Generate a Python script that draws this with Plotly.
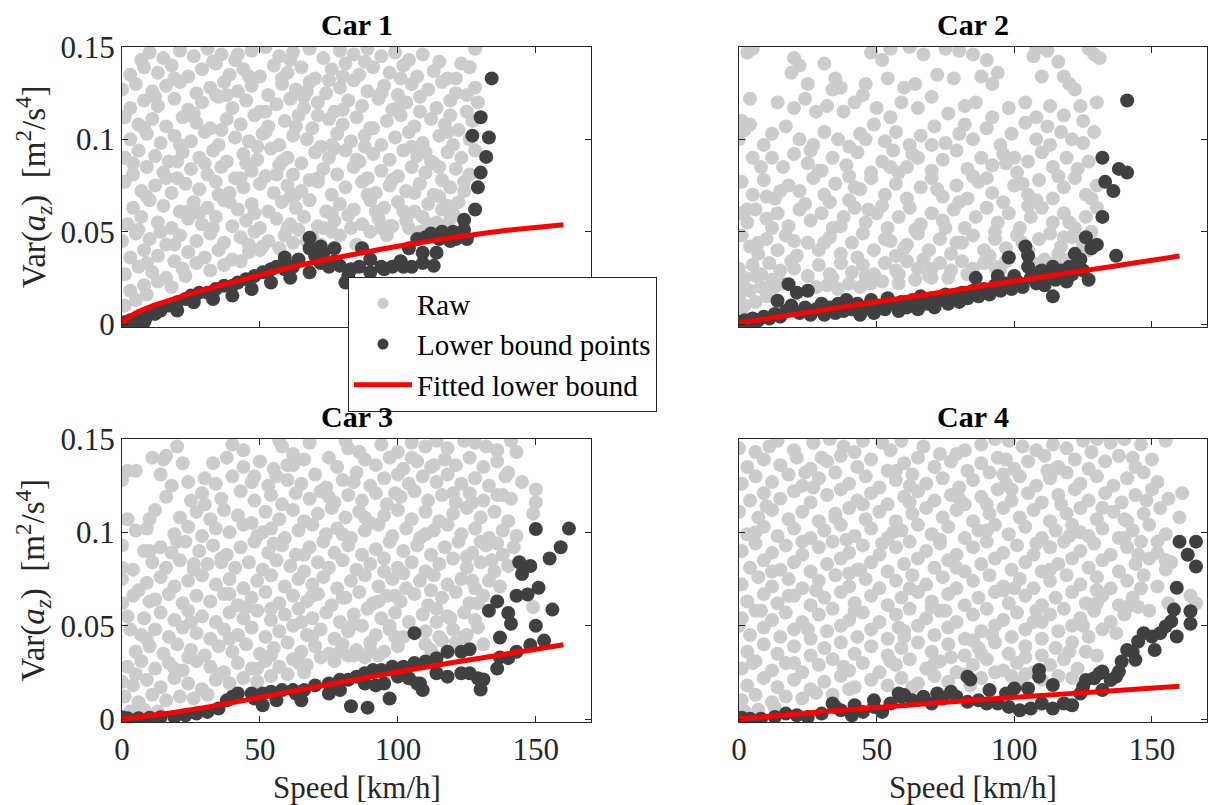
import plotly.graph_objects as go

# ---------------- data ----------------
titles = ["Car 1", "Car 2", "Car 3", "Car 4"]
x_ticks = [0, 50, 100, 150]
x_tick_text = ["0", "50", "100", "150"]
y_ticks = [0, 0.05, 0.1, 0.15]
y_tick_text = ["0", "0.05", "0.1", "0.15"]
legend_names = ["Raw", "Lower bound points", "Fitted lower bound"]

car1_raw = [
 (10,.147),(15,.144),(21,.148),(26,.145),(31,.149),(36,.146),(41,.143),(47,.148),(52,.15),(57,.145),(62,.147),(68,.149),(73,.144),(79,.148),(84,.146),(89,.149),(94,.145),(99,.147),(104,.143),(109,.146),(128,.149),
 (3,.135),(8,.139),(13,.136),(18,.14),(24,.134),(29,.138),(34,.141),(39,.135),(44,.138),(50,.134),(55,.14),(60,.136),(65,.139),(70,.133),(76,.138),(81,.141),(86,.135),(91,.139),(97,.136),(102,.14),(107,.134),(113,.137),(118,.133),(126,.139),
 (0,.127),(5,.13),(11,.126),(16,.129),(21,.131),(27,.125),(32,.128),(37,.131),(42,.126),(47,.129),(53,.124),(58,.13),(63,.127),(68,.131),(74,.125),(79,.128),(84,.132),(89,.126),(95,.129),(100,.124),(105,.13),(111,.127),(116,.131),(121,.125),(128,.128),
 (3,.117),(8,.121),(13,.118),(19,.122),(24,.116),(29,.12),(35,.123),(40,.117),(45,.121),(50,.115),(56,.119),(61,.122),(66,.117),(71,.12),(77,.115),(82,.121),(87,.118),(93,.122),(98,.116),(103,.12),(108,.123),(114,.117),(119,.121),(125,.124),(129,.12),
 (1,.112),(6,.108),(11,.111),(16,.107),(22,.112),(27,.109),(32,.106),(38,.111),(43,.108),(48,.113),(53,.107),(59,.11),(64,.113),(69,.106),(75,.111),(80,.108),(85,.112),(90,.106),(96,.11),(101,.113),(106,.107),(112,.111),(117,.108),(122,.105),(127,.11),
 (3,.1),(9,.103),(14,.098),(19,.102),(25,.099),(30,.104),(35,.097),(41,.101),(46,.099),(51,.103),(57,.097),(62,.102),(67,.1),(72,.096),(78,.103),(83,.099),(88,.102),(94,.097),(99,.101),(104,.104),(109,.098),(115,.102),(120,.097),(126,.1),
 (1,.09),(6,.094),(12,.091),(17,.088),(22,.093),(28,.09),(33,.094),(38,.088),(44,.092),(49,.089),(54,.095),(60,.09),(65,.087),(70,.093),(75,.09),(81,.094),(86,.088),(91,.092),(97,.089),(102,.094),(107,.091),(113,.087),(118,.093),(123,.09),(128,.094),
 (4,.081),(9,.085),(15,.082),(20,.079),(25,.084),(31,.081),(36,.085),(41,.079),(47,.083),(52,.08),(57,.086),(62,.081),(68,.078),(73,.084),(78,.081),(84,.085),(89,.079),(94,.083),(100,.08),(105,.085),(110,.082),(116,.078),(121,.084),(126,.081),
 (1,.077),(7,.072),(12,.075),(18,.071),(23,.076),(28,.073),(34,.077),(39,.071),(44,.074),(50,.076),(55,.071),(60,.075),(65,.072),(71,.077),(76,.07),(81,.074),(87,.077),(92,.071),(97,.075),(103,.072),(108,.076),(113,.07),(119,.074),(124,.072),
 (4,.063),(10,.067),(15,.064),(21,.061),(26,.066),(31,.063),(37,.067),(42,.062),(47,.065),(53,.061),(58,.066),(63,.063),(68,.067),(74,.061),(79,.065),(84,.062),(90,.067),(95,.063),(100,.066),(106,.061),(111,.065),(116,.062),(122,.066),
 (2,.054),(7,.058),(13,.055),(18,.052),(24,.057),(29,.054),(34,.058),(40,.053),(45,.056),(50,.052),(56,.057),(61,.054),(66,.058),(71,.053),(77,.056),(82,.059),(87,.054),(93,.057),(98,.053),(103,.056),(109,.058),(114,.055),(119,.057),(124,.055),
 (0,.045),(5,.049),(10,.046),(16,.043),(21,.048),(27,.045),(32,.049),(37,.044),(43,.047),(48,.05),(53,.045),(59,.048),(64,.051),(69,.047),(76,.05),(83,.052),(90,.05),(97,.053),(104,.052),(111,.054),(117,.053),
 (3,.036),(8,.04),(13,.037),(19,.034),(24,.039),(30,.036),(35,.04),(40,.035),(46,.039),(51,.042),(57,.041),(62,.044),(67,.045),(72,.043),
 (1,.027),(6,.031),(11,.028),(16,.025),(22,.03),(27,.033),(32,.029),(37,.032),(43,.034),
 (3,.018),(8,.021),(13,.023),(18,.02),(23,.026),(1,.01),(5,.013),(9,.016),
 (34,.124),(58,.133),(71,.113),(88,.096),(45,.087),(63,.07),(92,.061),(28,.06),(115,.085),(100,.117),(80,.134),(52,.104),(20,.088),(118,.064),(106,.071),(39,.066),(73,.052),(85,.043),(96,.048),(56,.081),(67,.126),(110,.093),(125,.115),(14,.05),(9,.033),(50,.04),(123,.141),(24,.113),(77,.095),(42,.146),
 (7,.143),(19,.133),(33,.142),(46,.134),(61,.143),(75,.132),(88,.142),(101,.133),(115,.142),(121,.133),
 (12,.123),(26,.114),(38,.124),(52,.115),(66,.123),(80,.116),(94,.125),(108,.115),(119,.113),
 (8,.106),(21,.097),(36,.105),(49,.096),(63,.107),(76,.097),(91,.106),(105,.096),(118,.104),
 (4,.087),(16,.079),(30,.087),(43,.079),(58,.088),(71,.079),(85,.089),(98,.078),(112,.088),(124,.077),
 (9,.069),(24,.061),(35,.07),(48,.06),(61,.069),(76,.06),(89,.07),(102,.061),(115,.069),
 (6,.051),(19,.043),(33,.052),(46,.043),(60,.052),(79,.048),(94,.052),(108,.05),(120,.06),
]
car1_low = [
 (0,.0003),(1,.001),(3,.002),(4,.0005),(6,.002),(8,.001),(9,.004),(12,.0055),(14,.0073),(17,.01),(20,.0073),(20,.0118),(23,.0136),(25,.0154),(26,.0118),(28,.017),(31,.017),(33,.0136),(34,.019),(37,.0208),(40,.0208),(40,.0154),(42,.0225),(45,.0243),(47,.019),(48,.026),(51,.028),(54,.0297),(54,.0225),(56,.031),(59,.0297),(59,.036),(61,.025),(62,.031),(64,.035),(68,.0467),(68,.041),(68,.028),(70,.037),(72,.033),(72,.042),(73,.0386),(75,.031),(77,.034),(77,.041),(79,.0315),(81,.0225),(82,.026),(83,.0297),(86,.031),(87,.041),(90,.035),(90,.028),(94,.031),(95,.0297),(98,.031),(101,.034),(102,.031),(104,.041),(105,.031),(107,.046),(109,.033),(109,.0386),(110,.047),(112,.049),(113,.0315),(114,.0386),(115,.046),(116,.05),(118,.047),(119,.045),(120,.05),(121,.046),(122,.049),(124,.051),(124,.0565),(125,.046),(128,.062),(129,.074),(130,.082),(132,.0905),(127,.102),(133,.101),(130,.112),(134,.133),
]
car1_fit_v = [0, 2, 5, 10, 15, 20, 30, 40, 50, 60, 70, 80, 90, 100, 110, 120, 130, 140, 150, 160]
car1_fit_y = [0, .003, .006, .0092, .0118, .0142, .0186, .0226, .0265, .0302, .0336, .0366, .0394, .0421, .0445, .0468, .0489, .0508, .0523, .0537]

car2_raw = [
 (3,.147),(5,.149),(20,.144),(22,.14),(31,.141),(48,.147),(52,.143),(55,.149),(62,.15),(67,.146),(75,.149),(80,.148),(85,.146),(90,.143),(107,.145),(108,.149),(112,.148),(116,.142),(127,.149),(129,.146),(131,.144),
 (19,.136),(25,.13),(34,.127),(35,.133),(37,.128),(46,.13),(54,.133),(60,.128),(64,.13),(72,.135),(78,.133),(88,.134),(92,.13),(94,.136),(110,.134),(118,.134),(120,.13),(122,.127),
 (4,.122),(14,.12),(20,.117),(24,.122),(28,.115),(32,.118),(38,.115),(42,.12),(45,.124),(50,.117),(55,.112),(59,.12),(65,.117),(70,.123),(76,.114),(82,.118),(86,.12),(92,.112),(98,.117),(104,.12),(108,.112),(113,.118),(118,.113),(124,.118),(130,.12),(1,.11),
 (2,.105),(0,.1),(4,.108),(9,.097),(12,.103),(17,.107),(22,.1),(27,.097),(31,.104),(36,.1),(40,.096),(44,.103),(49,.108),(53,.099),(57,.104),(62,.097),(66,.102),(71,.107),(75,.098),(80,.103),(85,.1),(90,.106),(95,.097),(99,.103),(104,.109),(108,.1),(113,.097),(117,.104),(121,.1),(125,.098),(129,.104),
 (12,.09),(16,.085),(20,.092),(25,.087),(30,.083),(34,.09),(39,.086),(43,.093),(48,.082),(52,.088),(56,.094),(61,.085),(65,.09),(70,.083),(74,.089),(79,.094),(83,.084),(88,.09),(92,.086),(96,.092),(101,.082),(105,.088),(110,.093),(114,.085),(119,.09),(123,.084),(127,.088),
 (1,.077),(5,.07),(9,.078),(13,.068),(18,.075),(22,.072),(27,.079),(31,.07),(35,.076),(40,.067),(44,.073),(48,.079),(53,.07),(57,.076),(61,.068),(66,.074),(70,.079),(74,.069),(79,.075),(83,.068),(87,.077),(92,.071),(96,.066),(100,.075),(105,.07),(109,.078),(114,.068),(118,.074),(122,.079),(126,.07),(130,.075),
 (0,.06),(3,.055),(6,.062),(10,.057),(14,.06),(18,.053),(22,.062),(26,.056),(30,.06),(34,.052),(38,.058),(42,.063),(46,.055),(50,.06),(54,.052),(58,.058),(62,.063),(66,.054),(70,.06),(74,.056),(78,.062),(82,.052),(86,.058),(90,.063),(94,.055),(98,.06),(102,.052),(106,.058),(110,.063),(114,.055),(118,.06),(122,.052),(126,.058),(130,.063),
 (1,.048),(4,.042),(7,.038),(10,.046),(14,.04),(17,.048),(21,.037),(25,.044),(29,.04),(33,.047),(37,.038),(41,.044),(45,.049),(49,.04),(53,.046),(57,.037),(61,.043),(65,.049),(69,.04),(73,.046),(77,.038),(81,.044),(85,.048),(89,.04),(93,.046),(97,.041),(101,.048),(105,.04),(109,.046),(113,.049),(117,.042),(121,.047),(125,.043),(128,.05),
 (0,.03),(2,.025),(5,.032),(8,.027),(11,.033),(15,.029),(25,.026),(29,.032),(33,.027),(37,.033),(41,.028),(45,.032),(49,.027),(53,.033),(57,.029),(61,.034),(65,.03),(69,.026),(73,.033),(77,.029),(81,.034),(85,.03),(89,.033),(93,.031),(97,.034),(111,.035),(115,.033),(120,.035),(123,.033),
 (0,.015),(2,.01),(4,.018),(6,.012),(8,.02),(10,.015),(13,.02),(1,.005),(16,.022),(28,.02),(32,.021),(36,.019),(40,.022),(44,.02),(48,.022),(52,.023),(58,.022),(64,.024),(70,.025),(76,.025),
 (60,.041),(75,.052),(90,.036),(33,.066),(47,.062),(105,.064),(118,.047),(128,.068),(10,.069),(20,.045),(55,.085),(85,.08),(100,.09),(70,.097),(125,.11),(5,.09),(40,.08),
 (3,.062),(12,.052),(24,.065),(37,.053),(52,.064),(64,.051),(80,.066),(93,.05),(108,.067),(120,.055),
 (7,.044),(19,.034),(31,.044),(43,.036),(55,.045),(67,.035),(79,.044),(91,.037),(103,.044),(116,.038),(127,.04),
 (2,.02),(6,.026),(12,.024),(20,.03),(34,.025),(46,.026),(58,.027),(70,.03),(83,.027),(95,.03),(107,.033),(118,.03),
 (15,.072),(29,.083),(42,.074),(58,.082),(72,.073),(90,.079),(103,.076),(116,.08),
 (8,.085),(26,.094),(46,.1),(63,.092),(82,.108),(97,.087),(112,.107),
]
car2_low = [
 (0,.001),(1,.0005),(2,.002),(4,.001),(5,.003),(7,.002),(9,.004),(11,.003),(13,.0055),(14,.0126),(15,.004),(17,.007),(18,.0216),(19,.01),(21,.017),(22,.006),(24,.009),(25,.018),(26,.005),(28,.008),(30,.011),(31,.005),(33,.009),(35,.006),(36,.011),(38,.007),(39,.013),(41,.008),(43,.011),(44,.005),(46,.009),(48,.013),(49,.006),(51,.01),(53,.008),(54,.014),(56,.011),(58,.007),(59,.012),(61,.009),(63,.013),(65,.008),(66,.015),(68,.011),(70,.014),(71,.009),(73,.013),(75,.016),(76,.011),(78,.014),(80,.012),(81,.017),(83,.014),(85,.018),(86,.025),(87,.015),(89,.019),(91,.016),(93,.021),(94,.026),(95,.018),(97,.022),(98,.036),(99,.019),(100,.026),(101,.023),(103,.02),(104,.042),(105,.037),(105,.031),(106,.025),(108,.022),(109,.028),(110,.029),(111,.021),(112,.026),(114,.031),(114,.015),(115,.024),(117,.029),(118,.026),(119,.023),(120,.031),(121,.027),(122,.038),(123,.032),(124,.035),(125,.029),(126,.047),(127,.024),(128,.041),(130,.043),(132,.058),(132,.09),(133,.077),(136,.072),(137,.037),(138,.084),(141,.082),(141,.121),
]
car2_fit_v = [0, 20, 40, 60, 80, 100, 120, 140, 160]
car2_fit_y = [.0005, .0052, .0097, .0142, .0187, .0232, .0277, .0322, .0368]

car3_raw = [
 (20,.146),(40,.147),(44,.144),(57,.149),(58,.146),(68,.148),(81,.149),(82,.145),(94,.147),(100,.143),(105,.148),(110,.146),(114,.149),(118,.145),(124,.149),(128,.148),(132,.146),(136,.144),(141,.149),(143,.143),
 (11,.14),(15,.139),(16,.141),(22,.137),(33,.137),(38,.14),(44,.135),(50,.138),(55,.134),(62,.136),(66,.139),(75,.14),(78,.135),(88,.139),(92,.136),(97,.14),(102,.134),(107,.138),(112,.135),(117,.139),(121,.136),(126,.14),(131,.135),(136,.138),
 (0,.128),(2,.133),(5,.133),(14,.131),(24,.127),(30,.129),(34,.126),(40,.13),(47,.127),(53,.125),(56,.13),(60,.128),(65,.126),(70,.131),(74,.124),(80,.128),(85,.132),(90,.125),(95,.129),(100,.131),(104,.126),(109,.13),(114,.127),(118,.131),(123,.126),(128,.129),(133,.125),(139,.13),(145,.127),
 (18,.125),(16,.119),(25,.117),(29,.121),(36,.118),(43,.122),(48,.117),(54,.12),(58,.115),(63,.121),(68,.118),(72,.122),(77,.116),(82,.12),(87,.117),(92,.121),(96,.115),(101,.119),(106,.122),(111,.117),(116,.12),(121,.116),(126,.121),(131,.117),(136,.12),(141,.118),(150,.123),
 (12,.112),(10,.107),(21,.108),(27,.111),(32,.107),(37,.112),(42,.109),(47,.105),(52,.111),(57,.107),(62,.112),(66,.106),(71,.11),(76,.113),(81,.108),(86,.111),(90,.105),(95,.109),(100,.112),(105,.107),(110,.111),(115,.106),(120,.11),(125,.113),(130,.108),(135,.111),(140,.106),(149,.11),(150,.116),
 (5,.101),(9,.102),(19,.099),(24,.103),(29,.098),(34,.102),(39,.1),(44,.104),(49,.098),(54,.102),(59,.097),(64,.101),(69,.104),(74,.099),(78,.102),(83,.097),(88,.101),(93,.104),(98,.098),(103,.102),(108,.097),(113,.101),(118,.104),(123,.099),(128,.102),(133,.097),(138,.101),(143,.098),
 (0,.093),(8,.09),(14,.092),(18,.089),(23,.095),(28,.09),(33,.093),(38,.088),(43,.092),(48,.095),(53,.089),(58,.093),(63,.088),(68,.092),(73,.095),(77,.089),(82,.093),(87,.088),(92,.091),(97,.095),(102,.09),(107,.093),(112,.088),(117,.092),(122,.095),(127,.089),(132,.093),(138,.088),(142,.092),
 (0,.081),(11,.084),(16,.081),(21,.085),(26,.08),(31,.083),(36,.086),(41,.081),(46,.084),(51,.08),(56,.085),(61,.082),(66,.079),(71,.084),(75,.081),(80,.085),(85,.08),(90,.083),(95,.086),(100,.081),(105,.084),(110,.079),(115,.083),(120,.086),(125,.081),(130,.084),(135,.079),(140,.082),
 (0,.075),(6,.069),(9,.073),(14,.076),(19,.071),(24,.074),(29,.077),(34,.072),(39,.075),(44,.07),(49,.074),(54,.077),(59,.071),(64,.075),(69,.072),(73,.076),(78,.07),(83,.074),(88,.077),(93,.071),(98,.075),(103,.07),(108,.074),(113,.077),(118,.072),(123,.075),(128,.07),(133,.074),(137,.071),
 (0,.062),(4,.066),(12,.064),(17,.067),(22,.062),(27,.066),(32,.063),(37,.067),(42,.061),(47,.065),(52,.068),(57,.062),(62,.066),(67,.063),(71,.067),(76,.061),(81,.065),(86,.068),(91,.062),(96,.066),(101,.063),(106,.067),(111,.061),(116,.065),(121,.068),(126,.062),(131,.066),(149,.06),
 (2,.055),(8,.054),(14,.057),(19,.053),(24,.058),(29,.055),(34,.052),(39,.057),(44,.054),(49,.058),(54,.053),(59,.056),(64,.059),(69,.054),(74,.057),(79,.052),(84,.056),(89,.059),(94,.054),(99,.057),(104,.052),(109,.056),(114,.059),(119,.054),(124,.057),(128,.053),
 (3,.048),(7,.045),(12,.048),(17,.044),(22,.049),(27,.046),(32,.043),(37,.048),(42,.045),(47,.049),(52,.044),(57,.047),(62,.05),(67,.045),(72,.048),(77,.043),(82,.047),(87,.05),(92,.045),(97,.048),(102,.044),(110,.047),(115,.044),(120,.048),(125,.045),(129,.049),
 (5,.036),(10,.039),(15,.035),(20,.04),(25,.037),(30,.034),(35,.039),(40,.036),(45,.04),(50,.035),(55,.038),(60,.041),(65,.036),(70,.039),(75,.035),(80,.04),(85,.037),(90,.041),(95,.036),(100,.039),(110,.04),(116,.042),(124,.044),(131,.04),
 (2,.028),(7,.031),(12,.027),(17,.03),(22,.026),(27,.031),(32,.028),(37,.025),(42,.03),(47,.027),(52,.031),(57,.028),(62,.032),(67,.029),(72,.033),(77,.031),(82,.034),(88,.033),(93,.034),
 (0,.02),(4,.018),(9,.021),(14,.017),(19,.022),(24,.019),(29,.016),(34,.021),(39,.019),(44,.022),(49,.02),(54,.023),(60,.024),(66,.025),
 (1,.012),(6,.009),(11,.013),(16,.01),(21,.012),(26,.011),(31,.013),(3,.004),(8,.005),(13,.004),
 (55,.094),(88,.108),(102,.078),(120,.121),(127,.074),(65,.052),(45,.06),(80,.065),(97,.05),(112,.069),(130,.095),(138,.12),(75,.119),(26,.083),(60,.136),(105,.14),(93,.063),(118,.055),(84,.127),(134,.085),
 (30,.115),(48,.13),(62,.142),(86,.143),(99,.121),(113,.136),(127,.116),(140,.132),
 (20,.095),(36,.084),(51,.1),(66,.088),(80,.099),(95,.079),(110,.099),(125,.087),(136,.094),
 (10,.063),(25,.052),(39,.067),(54,.059),(69,.066),(84,.051),(99,.066),(114,.052),(129,.062),
 (9,.043),(24,.033),(39,.043),(54,.034),(69,.044),(84,.034),(99,.044),(112,.037),(121,.041),
 (5,.024),(19,.027),(35,.024),(49,.027),(64,.03),(79,.036),(90,.037),
 (4,.08),(10,.09),(2,.107),
]
car3_low = [
 (0,.001),(2,.0004),(6,.0004),(10,.0007),(14,.001),(19,.001),(23,.002),(27,.0029),(31,.0038),(35,.0056),(38,.01),(40,.0119),(42,.0137),(47,.0137),(48,.011),(51,.0137),(51,.0074),(54,.0146),(56,.01),(58,.0155),(62,.0155),(63,.0137),(65,.01),(66,.0155),(70,.018),(75,.019),(75,.0137),(79,.021),(79,.0155),(82,.021),(83,.0068),(85,.0227),(88,.0245),(88,.019),(89,.0061),(91,.0263),(92,.018),(94,.0263),(95,.019),(97,.011),(98,.028),(100,.0227),(102,.028),(104,.0218),(106,.03),(106,.046),(107,.019),(108,.019),(109,.0155),(110,.0308),(114,.0326),(114,.0245),(118,.036),(118,.0227),(123,.036),(123,.0245),(126,.0374),(126,.0245),(129,.0218),(130,.0158),(131,.0212),(136,.027),(137,.033),(137,.0437),(140,.0326),(143,.036),(136,.063),(133,.058),(140,.0568),(141,.051),(143,.066),(144,.084),(145,.0777),(147,.0667),(148,.082),(148,.0397),(150,.05),(150,.1018),(151,.0703),(153,.042),(155,.086),(156,.0586),(159,.092),(162,.102),
]
car3_fit_v = [0, 20, 40, 60, 80, 100, 120, 140, 160]
car3_fit_y = [0, .0038, .0088, .0143, .0198, .0252, .0303, .035, .0398]

car4_raw = [
 (0,.145),(11,.146),(14,.149),(20,.144),(27,.148),(33,.15),(38,.146),(45,.149),(52,.148),(55,.144),(59,.149),(67,.146),(73,.142),(82,.144),(88,.147),(93,.15),(98,.149),(103,.146),(108,.144),(114,.147),(119,.145),(125,.149),(130,.15),(135,.148),(140,.15),(146,.147),(155,.149),
 (3,.135),(9,.139),(15,.136),(21,.14),(26,.134),(32,.138),(37,.141),(43,.135),(48,.139),(54,.133),(60,.137),(65,.14),(71,.135),(77,.138),(83,.133),(88,.137),(94,.14),(100,.134),(105,.138),(111,.141),(116,.135),(122,.139),(127,.134),(133,.138),(138,.141),(144,.135),(150,.139),
 (1,.126),(6,.13),(12,.127),(18,.131),(23,.125),(29,.129),(35,.132),(40,.126),(46,.13),(51,.124),(57,.128),(63,.131),(68,.126),(74,.129),(80,.124),(85,.128),(91,.132),(97,.126),(102,.13),(108,.125),(113,.129),(119,.132),(124,.126),(130,.13),(136,.125),(141,.129),(147,.132),(152,.127),
 (4,.117),(9,.121),(15,.118),(20,.122),(26,.116),(32,.12),(37,.123),(43,.117),(48,.121),(54,.115),(60,.119),(65,.122),(71,.117),(77,.12),(82,.115),(88,.119),(94,.123),(99,.117),(105,.121),(110,.116),(116,.12),(122,.123),(127,.117),(133,.121),(139,.116),(144,.12),(150,.123),(156,.118),(161,.121),
 (0,.111),(7,.108),(12,.112),(18,.107),(23,.111),(29,.106),(35,.11),(40,.113),(46,.107),(51,.111),(57,.106),(63,.11),(68,.113),(74,.108),(79,.112),(85,.106),(91,.11),(96,.113),(102,.108),(107,.112),(113,.106),(119,.11),(124,.113),(130,.107),(136,.111),(141,.106),(147,.11),(153,.113),(160,.108),
 (3,.099),(9,.103),(14,.098),(20,.102),(26,.097),(31,.101),(37,.104),(42,.098),(48,.102),(54,.097),(59,.101),(65,.104),(70,.099),(76,.103),(82,.097),(87,.101),(93,.104),(98,.099),(104,.103),(110,.097),(115,.101),(121,.104),(127,.098),(132,.102),(138,.097),(143,.101),(149,.104),(155,.099),
 (1,.09),(6,.094),(12,.089),(17,.093),(23,.088),(29,.092),(34,.095),(40,.089),(45,.093),(51,.088),(57,.092),(62,.095),(68,.09),(73,.094),(79,.088),(85,.092),(90,.095),(96,.089),(101,.093),(107,.088),(113,.092),(118,.095),(124,.09),(129,.094),(135,.088),(141,.092),(146,.095),(152,.089),(157,.084),
 (4,.081),(9,.085),(15,.08),(20,.084),(26,.079),(32,.083),(37,.086),(43,.08),(48,.084),(54,.079),(60,.083),(65,.086),(71,.081),(76,.085),(82,.079),(88,.083),(93,.086),(99,.08),(104,.084),(110,.079),(116,.083),(121,.086),(127,.081),(132,.085),(138,.079),(144,.083),(149,.086),(155,.08),
 (1,.072),(7,.076),(12,.071),(18,.075),(23,.07),(29,.074),(35,.077),(40,.071),(46,.075),(51,.07),(57,.074),(63,.077),(68,.072),(74,.076),(79,.07),(85,.074),(91,.077),(96,.071),(102,.075),(107,.07),(113,.074),(119,.077),(124,.072),(130,.076),(135,.07),(141,.074),(147,.077),(152,.071),(156,.062),(164,.066),(166,.062),
 (3,.063),(9,.067),(14,.062),(20,.066),(26,.061),(31,.065),(37,.068),(42,.062),(48,.066),(54,.061),(59,.065),(65,.068),(70,.063),(76,.067),(82,.061),(87,.065),(93,.068),(98,.062),(104,.066),(110,.061),(115,.065),(121,.068),(126,.062),(132,.066),(138,.061),(143,.065),(149,.058),
 (1,.054),(6,.058),(12,.053),(17,.057),(23,.052),(29,.056),(34,.059),(40,.053),(45,.057),(51,.052),(57,.056),(62,.059),(68,.054),(73,.058),(79,.052),(85,.056),(90,.059),(96,.053),(101,.057),(107,.052),(113,.056),(118,.059),(124,.054),(129,.058),(135,.052),(140,.056),(145,.06),
 (0,.05),(4,.045),(9,.049),(15,.044),(20,.048),(26,.043),(32,.047),(37,.05),(43,.044),(48,.048),(54,.043),(60,.047),(65,.05),(71,.045),(76,.049),(82,.043),(88,.047),(93,.05),(99,.044),(104,.048),(110,.043),(116,.047),(121,.05),(127,.044),(132,.048),(137,.046),
 (3,.036),(9,.04),(14,.035),(20,.039),(26,.034),(31,.038),(37,.041),(42,.035),(48,.039),(54,.034),(59,.038),(65,.041),(70,.036),(76,.04),(82,.034),(87,.038),(93,.041),(98,.035),(104,.039),(110,.034),(115,.038),(121,.041),(126,.036),(130,.034),
 (1,.027),(6,.031),(12,.026),(17,.03),(23,.025),(29,.029),(34,.032),(40,.026),(45,.03),(51,.025),(57,.029),(62,.032),(68,.027),(73,.031),(79,.025),(85,.029),(90,.032),(96,.026),(101,.03),(107,.025),(113,.029),(118,.032),(123,.027),
 (3,.018),(9,.022),(14,.017),(20,.021),(26,.016),(31,.02),(37,.023),(42,.017),(48,.021),(54,.018),(59,.022),(65,.019),(71,.023),(76,.02),(82,.024),(88,.022),(93,.025),(99,.023),(104,.024),(110,.021),(116,.023),(121,.022),
 (1,.01),(6,.013),(12,.009),(17,.012),(23,.011),(28,.014),(34,.013),(2,.004),(7,.005),(13,.006),
 (30,.14),(62,.125),(90,.115),(120,.098),(145,.088),(40,.078),(70,.06),(100,.07),(130,.062),(18,.066),(52,.094),(85,.042),(110,.052),(140,.107),(155,.085),(77,.033),(35,.108),(115,.134),(60,.044),(96,.131),
 (6,.143),(24,.132),(42,.143),(57,.133),(79,.142),(97,.139),(112,.133),(128,.143),(143,.14),
 (10,.114),(27,.124),(45,.115),(62,.116),(80,.118),(99,.123),(117,.115),(132,.113),(148,.117),
 (6,.1),(23,.095),(39,.096),(56,.1),(73,.096),(90,.101),(108,.094),(124,.1),(140,.097),(152,.095),
 (12,.079),(28,.069),(44,.08),(62,.07),(79,.081),(96,.069),(113,.08),(130,.069),(146,.07),
 (8,.058),(25,.048),(42,.058),(58,.049),(75,.058),(92,.045),(108,.058),(125,.05),(141,.06),
 (5,.03),(20,.03),(38,.028),(55,.031),(71,.03),(88,.035),(104,.033),(120,.036),
 (40,.016),(63,.017),(84,.018),(102,.019),
]
car4_low = [
 (1,.0007),(4,.0002),(8,.0002),(13,.0011),(17,.0029),(21,.002),(25,.0011),(30,.0029),(34,.0083),(35,.0065),(37,.0047),(41,.002),(42,.0074),(45,.0038),(49,.0065),(49,.01),(52,.0038),(55,.0083),(58,.0137),(59,.0119),(60,.0128),(63,.01),(67,.0119),(70,.0083),(72,.0137),(74,.011),(77,.0146),(79,.0119),(83,.0092),(83,.0227),(84,.0212),(87,.01),(90,.0083),(91,.0155),(94,.0083),(97,.0137),(98,.0065),(100,.0164),(102,.0047),(105,.0164),(106,.0056),(109,.0263),(109,.0227),(110,.0083),(114,.0056),(114,.0182),(118,.0083),(121,.0074),(124,.0137),(125,.0173),(126,.0209),(129,.0218),(131,.0245),(132,.0254),(132,.0155),(135,.0209),(137,.0227),(138,.0254),(139,.0308),(141,.037),(143,.036),(144,.0317),(145,.0415),(147,.046),(150,.0442),(151,.037),(153,.046),(155,.0496),(157,.0523),(158,.0586),(159,.0442),(159,.0703),(160,.095),(163,.088),(164,.0577),(164,.051),(166,.0817),(166,.095),
]
car4_fit_v = [0, 20, 40, 60, 80, 100, 120, 140, 160]
car4_fit_y = [0, .0026, .005, .0073, .0095, .0116, .0136, .0156, .0175]

raw_sets = [car1_raw, car2_raw, car3_raw, car4_raw]
low_sets = [car1_low, car2_low, car3_low, car4_low]
fit_sets = [(car1_fit_v, car1_fit_y), (car2_fit_v, car2_fit_y),
            (car3_fit_v, car3_fit_y), (car4_fit_v, car4_fit_y)]

# ---------------- styling / layout ----------------
W, H = 1208, 805
FONT = "Liberation Serif"
GRAY = "#cccccc"
DARK = "#404040"
RED = "#ff0000"
AXC = "#262626"
FS = 31

# axes boxes in pixels (left, right, top, bottom)
boxes = [(122, 591, 47, 327), (739, 1207, 47, 327),
         (122, 591, 439, 722), (739, 1207, 439, 722)]

fig = go.Figure()
for i in range(4):
    xa = "x" if i == 0 else f"x{i+1}"
    ya = "y" if i == 0 else f"y{i+1}"
    rx = [p[0] for p in raw_sets[i]]
    ry = [p[1] for p in raw_sets[i]]
    lx = [p[0] for p in low_sets[i]]
    ly = [p[1] for p in low_sets[i]]
    fv, fy = fit_sets[i]
    fig.add_trace(go.Scatter(x=rx, y=ry, mode="markers", xaxis=xa, yaxis=ya,
                             marker=dict(color=GRAY, size=14, line=dict(width=0)),
                             showlegend=False, hoverinfo="skip"))
    fig.add_trace(go.Scatter(x=lx, y=ly, mode="markers", xaxis=xa, yaxis=ya,
                             marker=dict(color=DARK, size=14, line=dict(width=0)),
                             showlegend=False, hoverinfo="skip"))
    fig.add_trace(go.Scatter(x=fv, y=fy, mode="lines", xaxis=xa, yaxis=ya,
                             line=dict(color=RED, width=5, shape="spline"),
                             showlegend=False, hoverinfo="skip"))

# legend-only entries (smaller symbols, like the reference legend)
fig.add_trace(go.Scatter(x=[None], y=[None], mode="markers", name=legend_names[0],
                         marker=dict(color=GRAY, size=11), legendrank=1))
fig.add_trace(go.Scatter(x=[None], y=[None], mode="markers", name=legend_names[1],
                         marker=dict(color=DARK, size=11), legendrank=2))
fig.add_trace(go.Scatter(x=[None], y=[None], mode="lines", name=legend_names[2],
                         line=dict(color=RED, width=5), legendrank=3))

layout = dict(
    width=W, height=H, margin=dict(l=0, r=0, t=0, b=0, autoexpand=False),
    paper_bgcolor="white", plot_bgcolor="white",
    font=dict(family=FONT, size=FS, color=AXC),
    showlegend=True,
    legend=dict(x=348 / W, y=1 - 277 / H, xanchor="left", yanchor="top",
                bgcolor="white", bordercolor=AXC, borderwidth=1,
                font=dict(family=FONT, size=29, color="black"),
                tracegroupgap=0, itemwidth=58, itemsizing="trace"),
)
annotations = []
for i, (l, r, t, b) in enumerate(boxes):
    xk = "xaxis" if i == 0 else f"xaxis{i+1}"
    yk = "yaxis" if i == 0 else f"yaxis{i+1}"
    ya = "y" if i == 0 else f"y{i+1}"
    xa = "x" if i == 0 else f"x{i+1}"
    layout[xk] = dict(domain=[l / W, r / W], anchor=ya, range=[0, 170],
                      tickvals=x_ticks, ticktext=x_tick_text,
                      showticklabels=(i >= 2), ticks="inside", ticklen=6,
                      tickcolor=AXC, showline=True, linecolor=AXC, linewidth=1,
                      mirror="allticks", showgrid=False, zeroline=False,
                      automargin=False,
                      tickfont=dict(family=FONT, size=FS, color=AXC))
    layout[yk] = dict(domain=[1 - b / H, 1 - t / H], anchor=xa, range=[-0.0016, 0.15],
                      tickvals=y_ticks, ticktext=y_tick_text,
                      showticklabels=(i % 2 == 0), ticks="inside", ticklen=6,
                      tickcolor=AXC, showline=True, linecolor=AXC, linewidth=1,
                      mirror="allticks", showgrid=False, zeroline=False,
                      automargin=False,
                      tickfont=dict(family=FONT, size=FS, color=AXC))
    annotations.append(dict(text="<b>" + titles[i] + "</b>", x=(l + r) / 2 / W,
                            y=1 - (t - 23) / H, xref="paper", yref="paper",
                            xanchor="center", yanchor="middle",
                            showarrow=False, font=dict(family=FONT, size=30, color="black")))
    if i % 2 == 0:
        annotations.append(dict(text="Var(<i>a<sub>z</sub></i>)  [m<sup>2</sup>/s<sup>4</sup>]",
                                x=33 / W, y=1 - (t + b) / 2 / H, xref="paper", yref="paper",
                                xanchor="center", yanchor="middle",
                                textangle=-90, showarrow=False,
                                font=dict(family=FONT, size=33, color=AXC)))
    if i >= 2:
        annotations.append(dict(text="Speed [km/h]", x=(l + r) / 2 / W, y=1 - 787 / H,
                                xref="paper", yref="paper", xanchor="center", yanchor="middle",
                                showarrow=False,
                                font=dict(family=FONT, size=FS, color=AXC)))
layout["annotations"] = annotations
fig.update_layout(**layout)
fig.write_html("out.html", config={"displayModeBar": False},
               post_script="document.body.style.margin='0px';document.body.style.overflow='hidden';")
